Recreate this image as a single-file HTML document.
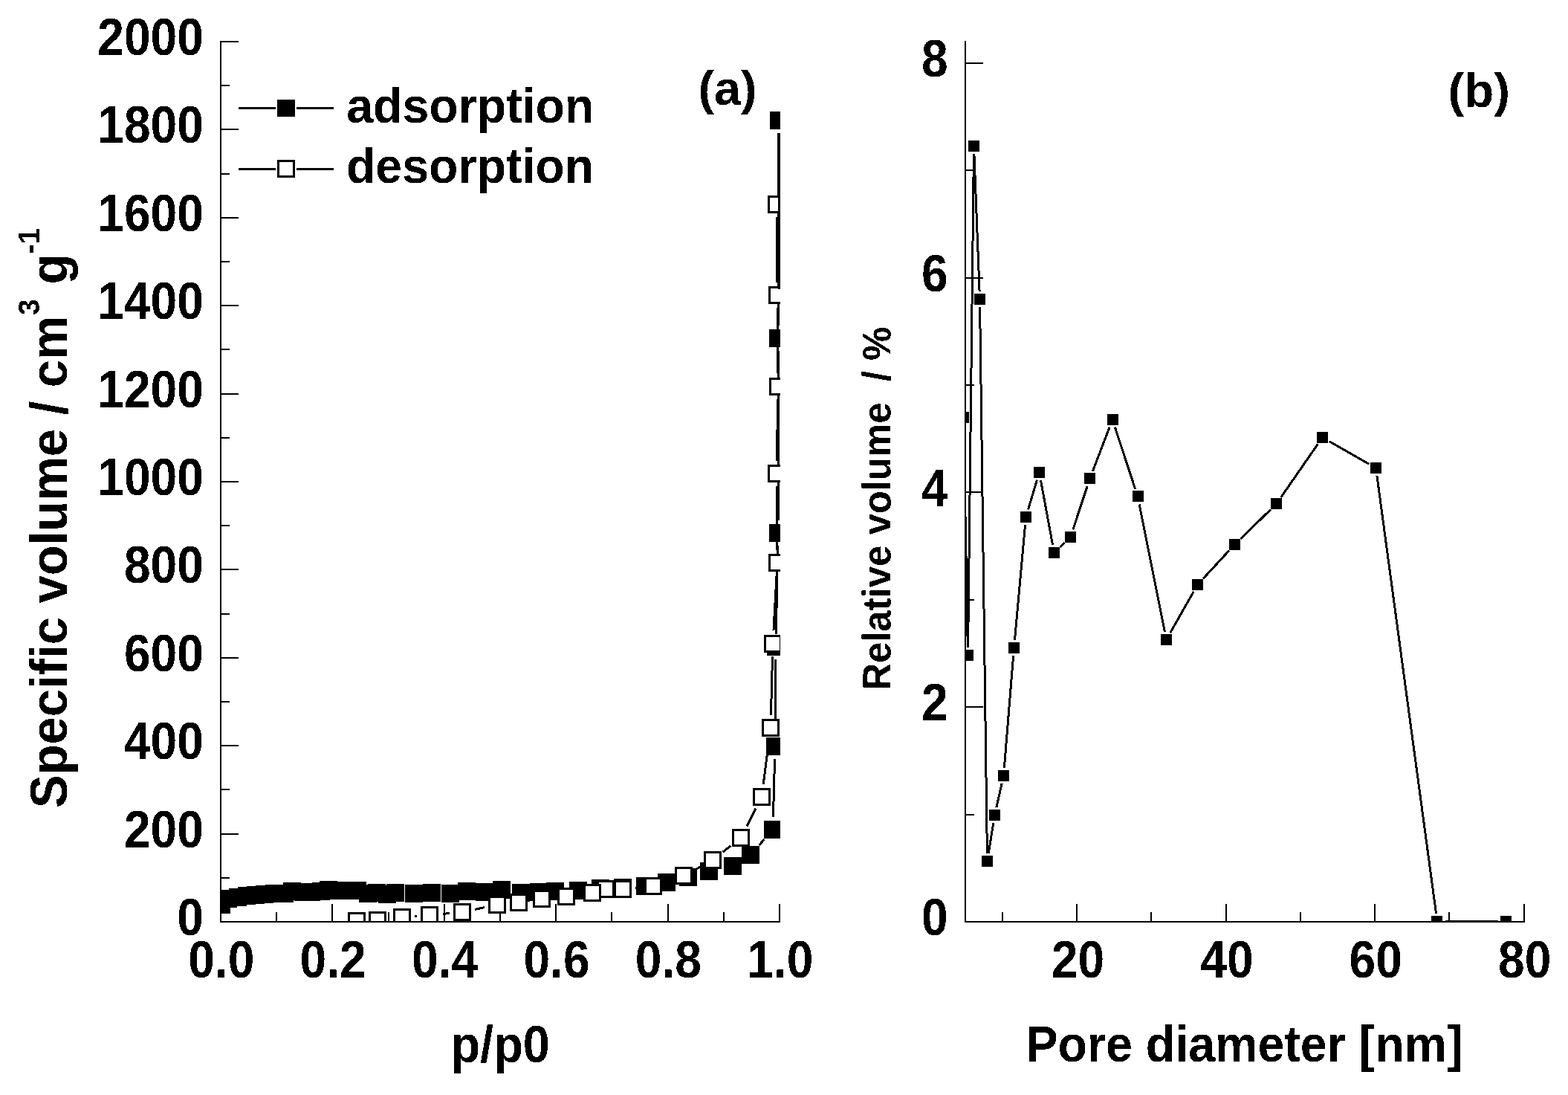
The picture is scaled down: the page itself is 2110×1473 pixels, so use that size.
<!DOCTYPE html>
<html lang="en"><head><meta charset="utf-8"><title>Sorption isotherm and pore size distribution</title>
<style>html,body{margin:0;padding:0;background:#fff;overflow:hidden}svg{display:block}text{font-family:"Liberation Sans",Arial,Helvetica,sans-serif;font-weight:bold;fill:#000}</style>
</head><body>
<svg width="2110" height="1473" viewBox="0 0 2110 1473" shape-rendering="crispEdges">
<rect x="0" y="0" width="2110" height="1473" fill="#fff"/>
<defs><filter id="bw" x="-5%" y="-5%" width="110%" height="110%" color-interpolation-filters="sRGB"><feComponentTransfer><feFuncA type="discrete" tableValues="0 1"/></feComponentTransfer></filter><clipPath id="ca"><rect x="297" y="40" width="753" height="1201"/></clipPath><clipPath id="cb"><rect x="1299" y="40" width="760" height="1201"/></clipPath></defs>
<g id="panel-a">
<g clip-path="url(#ca)">
<line x1="1021.45" y1="1137.03" x2="1028.55" y2="1128.97" stroke="#000" stroke-width="3"/>
<line x1="1040.46" y1="1098.71" x2="1042.54" y2="1021.29" stroke="#000" stroke-width="3"/>
<line x1="1043.13" y1="986.70" x2="1043.87" y2="887.30" stroke="#000" stroke-width="3"/>
<line x1="1044.34" y1="852.70" x2="1046.66" y2="734.30" stroke="#000" stroke-width="3"/>
<line x1="1047.00" y1="699.70" x2="1047.00" y2="472.30" stroke="#000" stroke-width="3"/>
<line x1="1047.06" y1="437.70" x2="1047.94" y2="179.30" stroke="#000" stroke-width="3"/>
<rect x="286" y="1205" width="24" height="24" fill="#000"/>
<rect x="286" y="1197" width="24" height="24" fill="#000"/>
<rect x="295" y="1197" width="24" height="24" fill="#000"/>
<rect x="308" y="1195" width="24" height="24" fill="#000"/>
<rect x="320" y="1193" width="24" height="24" fill="#000"/>
<rect x="332" y="1192" width="24" height="24" fill="#000"/>
<rect x="344" y="1191" width="24" height="24" fill="#000"/>
<rect x="357" y="1190" width="24" height="24" fill="#000"/>
<rect x="371" y="1190" width="24" height="24" fill="#000"/>
<rect x="381" y="1187" width="24" height="24" fill="#000"/>
<rect x="396" y="1188" width="24" height="24" fill="#000"/>
<rect x="407" y="1188" width="24" height="24" fill="#000"/>
<rect x="420" y="1187" width="24" height="24" fill="#000"/>
<rect x="430" y="1185" width="24" height="24" fill="#000"/>
<rect x="444" y="1186" width="24" height="24" fill="#000"/>
<rect x="459" y="1186" width="24" height="24" fill="#000"/>
<rect x="469" y="1186" width="24" height="24" fill="#000"/>
<rect x="483" y="1190" width="24" height="24" fill="#000"/>
<rect x="495" y="1189" width="24" height="24" fill="#000"/>
<rect x="509" y="1191" width="24" height="24" fill="#000"/>
<rect x="520" y="1189" width="24" height="24" fill="#000"/>
<rect x="545" y="1190" width="24" height="24" fill="#000"/>
<rect x="569" y="1189" width="24" height="24" fill="#000"/>
<rect x="594" y="1190" width="24" height="24" fill="#000"/>
<rect x="616" y="1187" width="24" height="24" fill="#000"/>
<rect x="640" y="1188" width="24" height="24" fill="#000"/>
<rect x="663" y="1185" width="24" height="24" fill="#000"/>
<rect x="689" y="1189" width="24" height="24" fill="#000"/>
<rect x="713" y="1188" width="24" height="24" fill="#000"/>
<rect x="735" y="1187" width="24" height="24" fill="#000"/>
<rect x="766" y="1186" width="24" height="24" fill="#000"/>
<rect x="796" y="1183" width="24" height="24" fill="#000"/>
<rect x="826" y="1182" width="24" height="24" fill="#000"/>
<rect x="856" y="1180" width="24" height="24" fill="#000"/>
<rect x="885" y="1175" width="24" height="24" fill="#000"/>
<rect x="914" y="1168" width="24" height="24" fill="#000"/>
<rect x="942" y="1160" width="24" height="24" fill="#000"/>
<rect x="974" y="1153" width="24" height="24" fill="#000"/>
<rect x="998" y="1138" width="24" height="24" fill="#000"/>
<rect x="1028" y="1104" width="24" height="24" fill="#000"/>
<rect x="1031" y="992" width="24" height="24" fill="#000"/>
<rect x="1032" y="858" width="24" height="24" fill="#000"/>
<rect x="1035" y="705" width="24" height="24" fill="#000"/>
<rect x="1035" y="443" width="24" height="24" fill="#000"/>
<rect x="1036" y="150" width="24" height="24" fill="#000"/>
<line x1="1045.14" y1="292.30" x2="1045.86" y2="379.70" stroke="#000" stroke-width="3"/>
<line x1="1046.14" y1="414.30" x2="1046.86" y2="502.20" stroke="#000" stroke-width="3"/>
<line x1="1046.71" y1="536.80" x2="1045.29" y2="619.70" stroke="#000" stroke-width="3"/>
<line x1="1045.14" y1="654.30" x2="1045.86" y2="739.70" stroke="#000" stroke-width="3"/>
<line x1="1045.04" y1="774.27" x2="1040.96" y2="848.23" stroke="#000" stroke-width="3"/>
<line x1="1039.54" y1="882.79" x2="1037.46" y2="961.71" stroke="#000" stroke-width="3"/>
<line x1="1034.79" y1="996.16" x2="1027.21" y2="1054.84" stroke="#000" stroke-width="3"/>
<line x1="1017.15" y1="1087.42" x2="1004.85" y2="1111.58" stroke="#000" stroke-width="3"/>
<line x1="983.42" y1="1137.72" x2="972.58" y2="1146.28" stroke="#000" stroke-width="3"/>
<line x1="943.85" y1="1165.35" x2="935.15" y2="1170.15" stroke="#000" stroke-width="3"/>
<line x1="903.57" y1="1183.91" x2="895.43" y2="1186.59" stroke="#000" stroke-width="3"/>
<line x1="861.78" y1="1193.68" x2="855.22" y2="1194.32" stroke="#000" stroke-width="3"/>
<line x1="779.91" y1="1203.69" x2="779.09" y2="1203.81" stroke="#000" stroke-width="3"/>
<line x1="652.08" y1="1220.60" x2="638.92" y2="1223.40" stroke="#000" stroke-width="3"/>
<line x1="604.77" y1="1228.58" x2="595.73" y2="1229.42" stroke="#000" stroke-width="3"/>
<line x1="561.26" y1="1232.38" x2="558.24" y2="1232.62" stroke="#000" stroke-width="3"/>
<rect x="1034.5" y="264.5" width="21" height="21" fill="#fff" stroke="#000" stroke-width="3"/>
<rect x="1035.5" y="386.5" width="21" height="21" fill="#fff" stroke="#000" stroke-width="3"/>
<rect x="1036.5" y="509.5" width="21" height="21" fill="#fff" stroke="#000" stroke-width="3"/>
<rect x="1034.5" y="626.5" width="21" height="21" fill="#fff" stroke="#000" stroke-width="3"/>
<rect x="1035.5" y="746.5" width="21" height="21" fill="#fff" stroke="#000" stroke-width="3"/>
<rect x="1029.5" y="855.5" width="21" height="21" fill="#fff" stroke="#000" stroke-width="3"/>
<rect x="1026.5" y="968.5" width="21" height="21" fill="#fff" stroke="#000" stroke-width="3"/>
<rect x="1014.5" y="1061.5" width="21" height="21" fill="#fff" stroke="#000" stroke-width="3"/>
<rect x="986.5" y="1116.5" width="21" height="21" fill="#fff" stroke="#000" stroke-width="3"/>
<rect x="948.5" y="1146.5" width="21" height="21" fill="#fff" stroke="#000" stroke-width="3"/>
<rect x="909.5" y="1167.5" width="21" height="21" fill="#fff" stroke="#000" stroke-width="3"/>
<rect x="868.5" y="1181.5" width="21" height="21" fill="#fff" stroke="#000" stroke-width="3"/>
<rect x="827.5" y="1185.5" width="21" height="21" fill="#fff" stroke="#000" stroke-width="3"/>
<rect x="804.5" y="1185.5" width="21" height="21" fill="#fff" stroke="#000" stroke-width="3"/>
<rect x="786.5" y="1190.5" width="21" height="21" fill="#fff" stroke="#000" stroke-width="3"/>
<rect x="751.5" y="1195.5" width="21" height="21" fill="#fff" stroke="#000" stroke-width="3"/>
<rect x="718.5" y="1198.5" width="21" height="21" fill="#fff" stroke="#000" stroke-width="3"/>
<rect x="687.5" y="1203.5" width="21" height="21" fill="#fff" stroke="#000" stroke-width="3"/>
<rect x="658.5" y="1206.5" width="21" height="21" fill="#fff" stroke="#000" stroke-width="3"/>
<rect x="611.5" y="1216.5" width="21" height="21" fill="#fff" stroke="#000" stroke-width="3"/>
<rect x="567.5" y="1220.5" width="21" height="21" fill="#fff" stroke="#000" stroke-width="3"/>
<rect x="530.5" y="1223.5" width="21" height="21" fill="#fff" stroke="#000" stroke-width="3"/>
<rect x="497.5" y="1227.5" width="21" height="21" fill="#fff" stroke="#000" stroke-width="3"/>
<rect x="469.5" y="1228.5" width="21" height="21" fill="#fff" stroke="#000" stroke-width="3"/>
<rect x="1047" y="179" width="3" height="210" fill="#000"/>
</g>
<rect x="296" y="55" width="2" height="1186" fill="#000"/>
<rect x="296" y="1239" width="754" height="2" fill="#000"/>
<rect x="298" y="1239" width="23" height="2" fill="#000"/>
<rect x="298" y="1180" width="11" height="2" fill="#000"/>
<rect x="298" y="1121" width="23" height="2" fill="#000"/>
<rect x="298" y="1061" width="11" height="2" fill="#000"/>
<rect x="298" y="1002" width="23" height="2" fill="#000"/>
<rect x="298" y="943" width="11" height="2" fill="#000"/>
<rect x="298" y="884" width="23" height="2" fill="#000"/>
<rect x="298" y="825" width="11" height="2" fill="#000"/>
<rect x="298" y="765" width="23" height="2" fill="#000"/>
<rect x="298" y="706" width="11" height="2" fill="#000"/>
<rect x="298" y="647" width="23" height="2" fill="#000"/>
<rect x="298" y="588" width="11" height="2" fill="#000"/>
<rect x="298" y="529" width="23" height="2" fill="#000"/>
<rect x="298" y="469" width="11" height="2" fill="#000"/>
<rect x="298" y="410" width="23" height="2" fill="#000"/>
<rect x="298" y="351" width="11" height="2" fill="#000"/>
<rect x="298" y="292" width="23" height="2" fill="#000"/>
<rect x="298" y="233" width="11" height="2" fill="#000"/>
<rect x="298" y="173" width="23" height="2" fill="#000"/>
<rect x="298" y="114" width="11" height="2" fill="#000"/>
<rect x="298" y="55" width="23" height="2" fill="#000"/>
<rect x="371" y="1227" width="2" height="12" fill="#000"/>
<rect x="446" y="1216" width="2" height="23" fill="#000"/>
<rect x="522" y="1227" width="2" height="12" fill="#000"/>
<rect x="597" y="1216" width="2" height="23" fill="#000"/>
<rect x="672" y="1227" width="2" height="12" fill="#000"/>
<rect x="747" y="1216" width="2" height="23" fill="#000"/>
<rect x="822" y="1227" width="2" height="12" fill="#000"/>
<rect x="898" y="1216" width="2" height="23" fill="#000"/>
<rect x="973" y="1227" width="2" height="12" fill="#000"/>
<rect x="1048" y="1216" width="2" height="23" fill="#000"/>
<rect x="321" y="144" width="50" height="3" fill="#000"/>
<rect x="399" y="144" width="50" height="3" fill="#000"/>
<rect x="373" y="134" width="24" height="23" fill="#000"/>
<rect x="321" y="226" width="50" height="3" fill="#000"/>
<rect x="399" y="226" width="50" height="3" fill="#000"/>
<rect x="374.5" y="216.5" width="21" height="21" fill="#fff" stroke="#000" stroke-width="3"/>
<g class="labels" filter="url(#bw)">
<text transform="translate(274.00,1258.00) scale(1,1.0981)" font-size="64.2" text-anchor="end" xml:space="preserve">0</text>
<text transform="translate(274.00,1139.60) scale(1,1.0981)" font-size="64.2" text-anchor="end" xml:space="preserve">200</text>
<text transform="translate(274.00,1021.20) scale(1,1.0981)" font-size="64.2" text-anchor="end" xml:space="preserve">400</text>
<text transform="translate(274.00,902.80) scale(1,1.0981)" font-size="64.2" text-anchor="end" xml:space="preserve">600</text>
<text transform="translate(274.00,784.40) scale(1,1.0981)" font-size="64.2" text-anchor="end" xml:space="preserve">800</text>
<text transform="translate(274.00,666.00) scale(1,1.0981)" font-size="64.2" text-anchor="end" xml:space="preserve">1000</text>
<text transform="translate(274.00,547.60) scale(1,1.0981)" font-size="64.2" text-anchor="end" xml:space="preserve">1200</text>
<text transform="translate(274.00,429.20) scale(1,1.0981)" font-size="64.2" text-anchor="end" xml:space="preserve">1400</text>
<text transform="translate(274.00,310.80) scale(1,1.0981)" font-size="64.2" text-anchor="end" xml:space="preserve">1600</text>
<text transform="translate(274.00,192.40) scale(1,1.0981)" font-size="64.2" text-anchor="end" xml:space="preserve">1800</text>
<text transform="translate(274.00,74.00) scale(1,1.0981)" font-size="64.2" text-anchor="end" xml:space="preserve">2000</text>
<text transform="translate(297.80,1315.00) scale(1,1.0981)" font-size="64.2" text-anchor="middle" xml:space="preserve">0.0</text>
<text transform="translate(448.20,1315.00) scale(1,1.0981)" font-size="64.2" text-anchor="middle" xml:space="preserve">0.2</text>
<text transform="translate(598.60,1315.00) scale(1,1.0981)" font-size="64.2" text-anchor="middle" xml:space="preserve">0.4</text>
<text transform="translate(749.00,1315.00) scale(1,1.0981)" font-size="64.2" text-anchor="middle" xml:space="preserve">0.6</text>
<text transform="translate(899.40,1315.00) scale(1,1.0981)" font-size="64.2" text-anchor="middle" xml:space="preserve">0.8</text>
<text transform="translate(1049.80,1315.00) scale(1,1.0981)" font-size="64.2" text-anchor="middle" xml:space="preserve">1.0</text>
<text transform="translate(466.20,165.00) scale(1,1.0202)" font-size="64.5" text-anchor="start" xml:space="preserve">adsorption</text>
<text transform="translate(465.90,246.30) scale(1,1.0202)" font-size="64.5" text-anchor="start" xml:space="preserve">desorption</text>
<text transform="translate(939.60,141.20) scale(1,1.0031)" font-size="64.6" text-anchor="start" xml:space="preserve">(a)</text>
<text transform="translate(606.40,1429.00) scale(1,1.0769)" font-size="65" text-anchor="start" xml:space="preserve">p/p0</text>
<text transform="translate(90,1087) rotate(-90) scale(1,1.0552)" font-size="67" xml:space="preserve"><tspan x="0" y="0">Specific volume / cm</tspan><tspan x="663.1" y="-35.44" font-size="39">3</tspan><tspan x="685.9" y="0"> g</tspan><tspan x="745.5" y="-35.44" font-size="39">-1</tspan></text>
</g>
</g>
<g id="panel-b">
<g clip-path="url(#cb)">
<line x1="1296.70" y1="571.70" x2="1302.30" y2="870.80" stroke="#000" stroke-width="3"/>
<line x1="1302.62" y1="870.80" x2="1310.38" y2="207.20" stroke="#000" stroke-width="3"/>
<line x1="1310.92" y1="207.19" x2="1318.08" y2="391.81" stroke="#000" stroke-width="3"/>
<line x1="1318.64" y1="413.20" x2="1328.36" y2="1147.80" stroke="#000" stroke-width="3"/>
<line x1="1330.20" y1="1147.94" x2="1336.80" y2="1107.06" stroke="#000" stroke-width="3"/>
<line x1="1340.86" y1="1086.06" x2="1348.14" y2="1053.94" stroke="#000" stroke-width="3"/>
<line x1="1351.37" y1="1032.84" x2="1363.63" y2="882.16" stroke="#000" stroke-width="3"/>
<line x1="1365.47" y1="860.84" x2="1379.53" y2="706.16" stroke="#000" stroke-width="3"/>
<line x1="1383.57" y1="685.25" x2="1395.43" y2="645.75" stroke="#000" stroke-width="3"/>
<line x1="1400.45" y1="646.02" x2="1416.55" y2="732.98" stroke="#000" stroke-width="3"/>
<line x1="1426.24" y1="736.11" x2="1432.76" y2="729.89" stroke="#000" stroke-width="3"/>
<line x1="1443.86" y1="712.34" x2="1463.14" y2="654.16" stroke="#000" stroke-width="3"/>
<line x1="1470.33" y1="634.01" x2="1493.17" y2="574.49" stroke="#000" stroke-width="3"/>
<line x1="1500.34" y1="574.67" x2="1527.66" y2="657.83" stroke="#000" stroke-width="3"/>
<line x1="1533.10" y1="678.49" x2="1567.40" y2="850.01" stroke="#000" stroke-width="3"/>
<line x1="1574.78" y1="851.19" x2="1606.22" y2="795.81" stroke="#000" stroke-width="3"/>
<line x1="1618.77" y1="778.65" x2="1654.23" y2="740.35" stroke="#000" stroke-width="3"/>
<line x1="1669.17" y1="725.04" x2="1709.83" y2="685.46" stroke="#000" stroke-width="3"/>
<line x1="1723.59" y1="669.20" x2="1773.41" y2="597.30" stroke="#000" stroke-width="3"/>
<line x1="1788.80" y1="593.79" x2="1842.20" y2="624.21" stroke="#000" stroke-width="3"/>
<line x1="1852.93" y1="640.10" x2="1932.57" y2="1228.90" stroke="#000" stroke-width="3"/>
<line x1="1944.70" y1="1239.50" x2="2015.80" y2="1239.50" stroke="#000" stroke-width="3"/>
<rect x="1289" y="554" width="15" height="15" fill="#000"/>
<rect x="1295" y="874" width="15" height="15" fill="#000"/>
<rect x="1303" y="189" width="15" height="15" fill="#000"/>
<rect x="1311" y="395" width="15" height="15" fill="#000"/>
<rect x="1321" y="1151" width="15" height="15" fill="#000"/>
<rect x="1331" y="1089" width="15" height="15" fill="#000"/>
<rect x="1343" y="1036" width="15" height="15" fill="#000"/>
<rect x="1357" y="864" width="15" height="15" fill="#000"/>
<rect x="1373" y="688" width="15" height="15" fill="#000"/>
<rect x="1391" y="628" width="15" height="15" fill="#000"/>
<rect x="1411" y="736" width="15" height="15" fill="#000"/>
<rect x="1433" y="715" width="15" height="15" fill="#000"/>
<rect x="1459" y="636" width="15" height="15" fill="#000"/>
<rect x="1490" y="557" width="15" height="15" fill="#000"/>
<rect x="1524" y="660" width="15" height="15" fill="#000"/>
<rect x="1562" y="853" width="15" height="15" fill="#000"/>
<rect x="1604" y="779" width="15" height="15" fill="#000"/>
<rect x="1654" y="725" width="15" height="15" fill="#000"/>
<rect x="1710" y="670" width="15" height="15" fill="#000"/>
<rect x="1772" y="581" width="15" height="15" fill="#000"/>
<rect x="1844" y="622" width="15" height="15" fill="#000"/>
<rect x="1926" y="1232" width="15" height="15" fill="#000"/>
<rect x="2019" y="1232" width="15" height="15" fill="#000"/>
</g>
<rect x="1298" y="55" width="2" height="1186" fill="#000"/>
<rect x="1298" y="1239" width="754" height="2" fill="#000"/>
<rect x="1300" y="1095" width="11" height="2" fill="#000"/>
<rect x="1300" y="950" width="23" height="2" fill="#000"/>
<rect x="1300" y="806" width="11" height="2" fill="#000"/>
<rect x="1300" y="661" width="23" height="2" fill="#000"/>
<rect x="1300" y="517" width="11" height="2" fill="#000"/>
<rect x="1300" y="373" width="23" height="2" fill="#000"/>
<rect x="1300" y="228" width="11" height="2" fill="#000"/>
<rect x="1300" y="84" width="23" height="2" fill="#000"/>
<rect x="1348" y="1227" width="2" height="12" fill="#000"/>
<rect x="1448" y="1216" width="2" height="23" fill="#000"/>
<rect x="1548" y="1227" width="2" height="12" fill="#000"/>
<rect x="1649" y="1216" width="2" height="23" fill="#000"/>
<rect x="1749" y="1227" width="2" height="12" fill="#000"/>
<rect x="1849" y="1216" width="2" height="23" fill="#000"/>
<rect x="1949" y="1227" width="2" height="12" fill="#000"/>
<rect x="2050" y="1216" width="2" height="23" fill="#000"/>
<g class="labels" filter="url(#bw)">
<text transform="translate(1275.80,1258.00) scale(1,1.0981)" font-size="64.2" text-anchor="end" xml:space="preserve">0</text>
<text transform="translate(1275.80,969.25) scale(1,1.0981)" font-size="64.2" text-anchor="end" xml:space="preserve">2</text>
<text transform="translate(1275.80,680.50) scale(1,1.0981)" font-size="64.2" text-anchor="end" xml:space="preserve">4</text>
<text transform="translate(1275.80,391.75) scale(1,1.0981)" font-size="64.2" text-anchor="end" xml:space="preserve">6</text>
<text transform="translate(1275.80,103.00) scale(1,1.0981)" font-size="64.2" text-anchor="end" xml:space="preserve">8</text>
<text transform="translate(1450.50,1315.00) scale(1,1.0981)" font-size="64.2" text-anchor="middle" xml:space="preserve">20</text>
<text transform="translate(1650.90,1315.00) scale(1,1.0981)" font-size="64.2" text-anchor="middle" xml:space="preserve">40</text>
<text transform="translate(1851.30,1315.00) scale(1,1.0981)" font-size="64.2" text-anchor="middle" xml:space="preserve">60</text>
<text transform="translate(2051.70,1315.00) scale(1,1.0981)" font-size="64.2" text-anchor="middle" xml:space="preserve">80</text>
<text transform="translate(1948.50,144.30) scale(1,0.9908)" font-size="65.5" text-anchor="start" xml:space="preserve">(b)</text>
<text transform="translate(1380.50,1428.00) scale(1,1.0538)" font-size="64.53" text-anchor="start" xml:space="preserve">Pore diameter [nm]</text>
<text transform="translate(1198.90,928.60) rotate(-90) scale(1,1.0521)" font-size="50.85" xml:space="preserve">Relative volume  / %</text>
</g>
</g>
</svg>
</body></html>
